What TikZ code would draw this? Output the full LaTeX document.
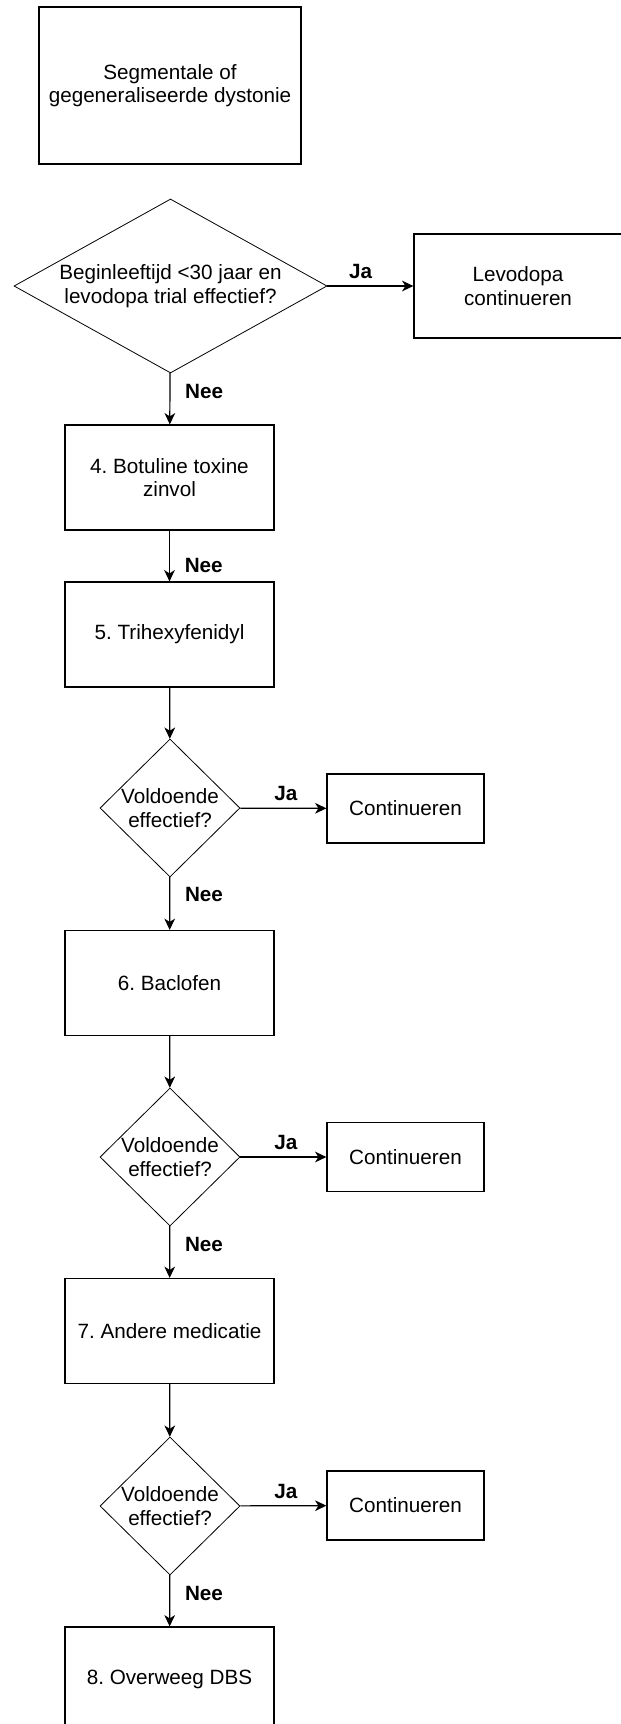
\documentclass[tikz,border=0pt]{standalone}
\usepackage{fontspec}
\setmainfont{Liberation Sans}
\frenchspacing
\usetikzlibrary{arrows.meta,%
                shapes.geometric}

\begin{document}
\begin{tikzpicture}[x=0.75pt,y=-0.75pt,
  every node/.style={font=\fontsize{15.5}{17.6}\selectfont},
  stap/.style={draw,line width=0.9pt,inner sep=0pt,align=center},
  keuze/.style={draw,diamond,line width=0.6pt,inner sep=-1pt,aspect=1,align=center,
                minimum width=105pt,minimum height=103.5pt},
  pijl/.style={line width=0.9pt,-{Stealth[length=8.5pt,width=8pt,inset=2.5pt]}},
  lab/.style={font=\fontsize{15.5}{17.6}\selectfont\bfseries,inner sep=0pt}]
\useasboundingbox (0,0) rectangle (621,1724);

\node[stap,minimum width=196.5pt,minimum height=117.75pt] (start) at (170,85.5)
  {Segmentale of\\gegeneraliseerde dystonie};
\node[draw,diamond,line width=0.6pt,inner sep=0pt,aspect=1.8,align=center,
  minimum width=234.75pt,minimum height=130.5pt] (leeftijd) at (170.5,286)
  {Beginleeftijd <30 jaar en\\levodopa trial effectief?};
\node[stap,minimum width=156pt,minimum height=78pt] (levodopa) at (518,286)
  {Levodopa\\continueren};

\node[stap,minimum width=156.75pt,minimum height=78.75pt] (botox) at (169.5,477.5)
  {4. Botuline toxine\\zinvol};
\node[stap,minimum width=156.75pt,minimum height=78.75pt] (trihex) at (169.5,634.5)
  {5. Trihexyfenidyl};
\node[keuze] (vraag1) at (170,808) {Voldoende\\effectief?};
\node[stap,minimum width=117.75pt,minimum height=51.75pt] (cont1) at (405.5,808.5)
  {Continueren};

\node[stap,minimum width=156.75pt,minimum height=78.75pt] (baclofen) at (169.5,983)
  {6. Baclofen};
\node[keuze] (vraag2) at (170,1157) {Voldoende\\effectief?};
\node[stap,minimum width=117.75pt,minimum height=51.75pt] (cont2) at (405.5,1157)
  {Continueren};

\node[stap,minimum width=156.75pt,minimum height=78.75pt] (andere) at (169.5,1331)
  {7. Andere medicatie};
\node[keuze] (vraag3) at (170,1506) {Voldoende\\effectief?};
\node[stap,minimum width=117.75pt,minimum height=51.75pt] (cont3) at (405.5,1505.5)
  {Continueren};

\node[stap,minimum width=156.75pt,minimum height=78.75pt] (dbs) at (169.5,1679.5)
  {8. Overweeg DBS};

\draw[pijl] (leeftijd) -- node[lab,pos=0.385,above=5pt] {Ja} (levodopa);
\draw[pijl] (leeftijd) -- node[lab,pos=0.35,right=11pt] {Nee} (botox);
\draw[pijl] (botox) -- node[lab,pos=0.69,right=11pt] {Nee} (trihex);
\draw[pijl] (trihex) -- (vraag1);
\draw[pijl] (vraag1) -- node[lab,pos=0.53,above=5pt] {Ja} (cont1);
\draw[pijl] (vraag1) -- node[lab,pos=0.33,right=11pt] {Nee} (baclofen);
\draw[pijl] (baclofen) -- (vraag2);
\draw[pijl] (vraag2) -- node[lab,pos=0.53,above=5pt] {Ja} (cont2);
\draw[pijl] (vraag2) -- node[lab,pos=0.36,right=11pt] {Nee} (andere);
\draw[pijl] (andere) -- (vraag3);
\draw[pijl] (vraag3) -- node[lab,pos=0.53,above=5pt] {Ja} (cont3);
\draw[pijl] (vraag3) -- node[lab,pos=0.35,right=11pt] {Nee} (dbs);

\end{tikzpicture}
\end{document}
